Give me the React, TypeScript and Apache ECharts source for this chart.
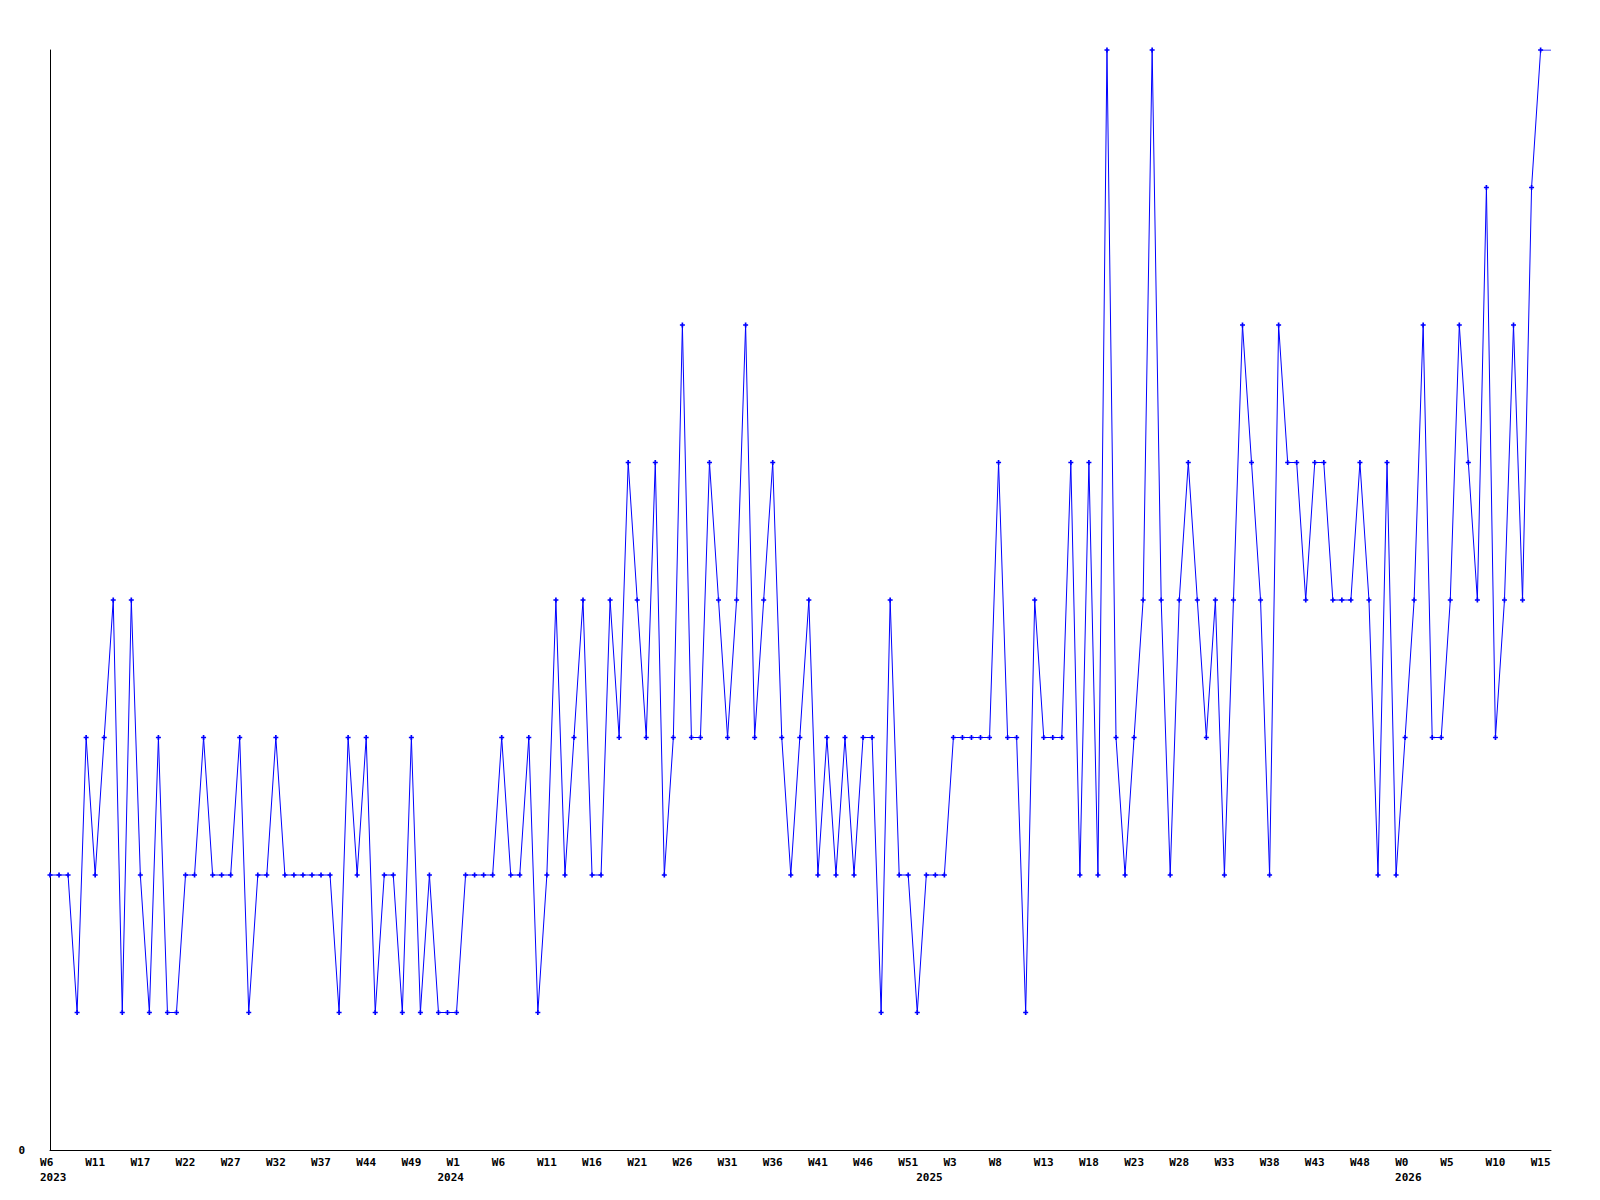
import React, { useEffect, useRef } from "react";
import * as echarts from "echarts";

// Weekly values (one per week, oldest first)
const values: number[] = [
  2, 2, 2, 1, 3, 2, 3, 4, 1, 4, 2, 1, 3, 1, 1, 2, 2, 3, 2, 2, 2, 3, 1, 2, 2, 3, 2, 2,
  2, 2, 2, 2, 1, 3, 2, 3, 1, 2, 2, 1, 3, 1, 2, 1, 1, 1, 2, 2, 2, 2, 3, 2, 2, 3, 1,
  2, 4, 2, 3, 4, 2, 2, 4, 3, 5, 4, 3, 5, 2, 3, 6, 3, 3, 5, 4, 3, 4, 6, 3, 4, 5, 3, 2, 3,
  4, 2, 3, 2, 3, 2, 3, 3, 1, 4, 2, 2, 1, 2, 2, 2, 3, 3, 3, 3, 3, 5, 3, 3, 1, 4, 3,
  3, 3, 5, 2, 5, 2, 8, 3, 2, 3, 4, 8, 4, 2, 4, 5, 4, 3, 4, 2, 4, 6, 5, 4, 2, 6, 5, 5,
  4, 5, 5, 4, 4, 4, 5, 4, 2, 5, 2, 3, 4, 6, 3, 3, 4, 6, 5, 4, 7, 3, 4, 6, 4, 7, 8,
];

// Week tick labels, one every 5 weeks starting at the first week
const tickLabels: string[] = [
  "W6", "W11", "W17", "W22", "W27", "W32", "W37", "W44", "W49", "W1", "W6", "W11",
  "W16", "W21", "W26", "W31", "W36", "W41", "W46", "W51", "W3", "W8", "W13", "W18",
  "W23", "W28", "W33", "W38", "W43", "W48", "W0", "W5", "W10", "W15",
];
const tickStep = 5;

// Year labels and the week index where each year starts
const yearNames: string[] = ["2023", "2024", "2025", "2026"];
const yearStartIndex: number[] = [0, 44, 97, 150];

// Axis extends a little past the last week (to "now")
const axisEnd = 166.15;
const yMax = 8;

const FONT = "DejaVu Sans Mono";

export default function App() {
  const ref = useRef<HTMLDivElement>(null);
  useEffect(() => {
    if (!ref.current) return;
    const chart = echarts.init(ref.current, undefined, { renderer: "svg" });
    const yearShift = 0.35;
    const labelStyle = {
      fontFamily: FONT,
      fontWeight: "bold" as const,
      fontSize: 11,
      color: "#000",
      lineHeight: 11,
    };
    const pts: any[] = values.map((v, i) => [i, v]);
    pts.push({ value: [axisEnd, values[values.length - 1]], symbol: "none" });
    chart.setOption({
      animation: false,
      backgroundColor: "#fff",
      grid: { left: 50, right: 49, top: 50, bottom: 50, containLabel: false },
      xAxis: [
        {
          type: "value",
          min: 0,
          max: axisEnd,
          interval: tickStep,
          axisLine: { show: true, onZero: false, lineStyle: { color: "#000", width: 1 } },
          axisTick: { show: false },
          splitLine: { show: false },
          axisLabel: {
            ...labelStyle,
            margin: 7,
            showMaxLabel: false,
            showMinLabel: true,
            formatter: (v: number) => {
              const k = Math.round(v / tickStep);
              if (Math.abs(v - k * tickStep) > 0.01 || k >= tickLabels.length) return "";
              const s = tickLabels[k];
              return s.length < 3 ? s + " " : s;
            },
          },
        },
        {
          type: "value",
          min: 0,
          max: axisEnd,
          position: "bottom",
          axisLine: { show: false },
          axisTick: { show: false },
          splitLine: { show: false },
          axisLabel: {
            ...labelStyle,
            margin: 22,
            customValues: yearStartIndex.map((i) => i + yearShift),
            formatter: (v: number) => {
              const idx = yearStartIndex.findIndex((i) => Math.abs(i + yearShift - v) < 0.01);
              return idx >= 0 ? yearNames[idx] : "";
            },
          },
        },
      ],
      yAxis: {
        type: "value",
        min: 0,
        max: yMax,
        interval: yMax,
        axisLine: { show: true, onZero: false, lineStyle: { color: "#000", width: 1 } },
        axisTick: { show: false },
        splitLine: { show: false },
        axisLabel: {
          ...labelStyle,
          margin: 25,
          formatter: (v: number) => (v === 0 ? "0" : ""),
        },
      },
      series: [
        {
          type: "line",
          xAxisIndex: 0,
          data: pts,
          showAllSymbol: true,
          symbol: "path://M1,0H2V1H3V2H2V3H1V2H0V1H1Z",
          symbolSize: 5,
          itemStyle: { color: "#0000ff" },
          lineStyle: { color: "#0000ff", width: 1 },
        },
      ],
    });
    return () => chart.dispose();
  }, []);
  return (
    <div
      ref={ref}
      style={{ position: "absolute", left: 0, top: 0, width: 1600, height: 1200, background: "#fff" }}
    />
  );
}
